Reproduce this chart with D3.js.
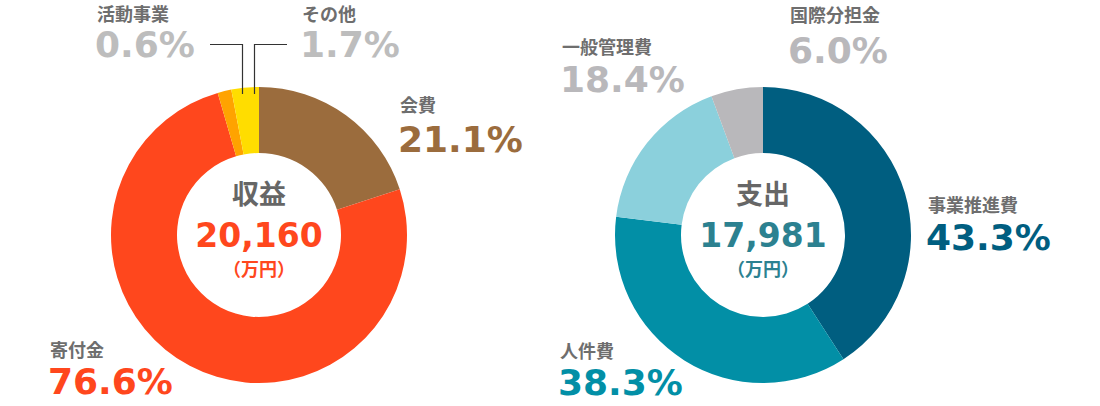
<!DOCTYPE html>
<html>
<head>
<meta charset="utf-8">
<script src="https://cdn.jsdelivr.net/npm/d3@7"></script>
<style>
html,body{margin:0;padding:0;background:#fff;}
svg{display:block;}
.lbl{font-family:"Noto Sans CJK JP","Noto Sans",sans-serif;font-weight:700;fill:#6e6e6e;}
.pct{font-family:"DejaVu Sans",Verdana,sans-serif;font-weight:700;}
</style>
</head>
<body>
<svg id="chart" width="1100" height="406"></svg>
<script>
// ---- data ----
const incomeLabels = ["会費", "寄付金", "活動事業", "その他"];
const incomePct = [21.1, 76.6, 0.6, 1.7];          // printed percentages
const incomeSlices = [20.0, 75.5, 1.5, 3.0];       // slice shares as drawn in the picture
const incomeColors = ["#9b6c3d", "#ff471d", "#ffa300", "#ffdd00"];
const incomePctColors = ["#9b6c3d", "#ff471d", "#bdbdbd", "#bdbdbd"];
const incomeTitle = "収益";
const incomeTotal = "20,160";
const incomeTotalColor = "#ff471d";

const expenseLabels = ["事業推進費", "人件費", "一般管理費", "国際分担金"];
const expensePct = [43.3, 38.3, 18.4, 6.0];
const expenseSlices = [43.3, 38.3, 18.4, 6.0];
const expenseColors = ["#005e80", "#028fa6", "#8bd0dc", "#b9b8bb"];
const expensePctColors = ["#005e80", "#028fa6", "#b9b8bb", "#b9b8bb"];
const expenseTitle = "支出";
const expenseTotal = "17,981";
const expenseTotalColor = "#2c8190";
const unitLabel = "（万円）";

// ---- layout ----
const svg = d3.select("#chart");
const R = 148, r0 = 82;

function donut(cx, cy, labels, pcts, slices, colors, pctColors, title, total, totalColor, labelPos, leaders) {
  const g = svg.append("g").attr("transform", `translate(${cx},${cy})`);
  const pie = d3.pie().sort(null).value(d => d)(slices);
  const arc = d3.arc().innerRadius(r0).outerRadius(R);
  g.selectAll("path").data(pie).join("path")
    .attr("d", arc).attr("fill", (d, i) => colors[i]);

  g.append("text").attr("class", "lbl").attr("text-anchor", "middle")
    .attr("x", 0).attr("y", -31).style("font-size", "27px").style("fill", "#666").text(title);
  g.append("text").attr("class", "pct").attr("text-anchor", "middle")
    .attr("x", 0).attr("y", 12).style("font-size", "33px").style("fill", totalColor).text(total);
  g.append("text").attr("class", "lbl").attr("text-anchor", "middle")
    .attr("x", 0).attr("y", 41).style("font-size", "18px").style("fill", totalColor).text(unitLabel);

  labels.forEach((lab, i) => {
    const p = labelPos[i];
    svg.append("text").attr("class", "lbl").attr("x", p[0]).attr("y", p[1])
      .style("font-size", "18px").text(lab);
    svg.append("text").attr("class", "pct").attr("x", p[0] - 2).attr("y", p[2])
      .style("font-size", "36px").style("fill", pctColors[i])
      .text(d3.format(".1f")(pcts[i]) + "%");
  });

  (leaders || []).forEach(L => {
    svg.append("polyline")
      .attr("points", `${L.x0},${L.y0} ${L.x1},${L.y0} ${L.x1},${L.y1}`)
      .attr("fill", "none").attr("stroke", "#333").attr("stroke-width", 1.2);
  });
}

donut(259, 235, incomeLabels, incomePct, incomeSlices, incomeColors, incomePctColors,
  incomeTitle, incomeTotal, incomeTotalColor,
  [[400, 112, 152], [50, 357, 394], [97, 21, 57], [302, 21, 57]],
  [{x0: 210, x1: 242.5, y0: 44.5, y1: 94}, {x0: 287, x1: 254.5, y0: 44.5, y1: 94}]);

donut(763, 235, expenseLabels, expensePct, expenseSlices, expenseColors, expensePctColors,
  expenseTitle, expenseTotal, expenseTotalColor,
  [[928, 212, 250], [560, 358, 395], [562, 54, 92], [790, 22, 63]]);
</script>
</body>
</html>
